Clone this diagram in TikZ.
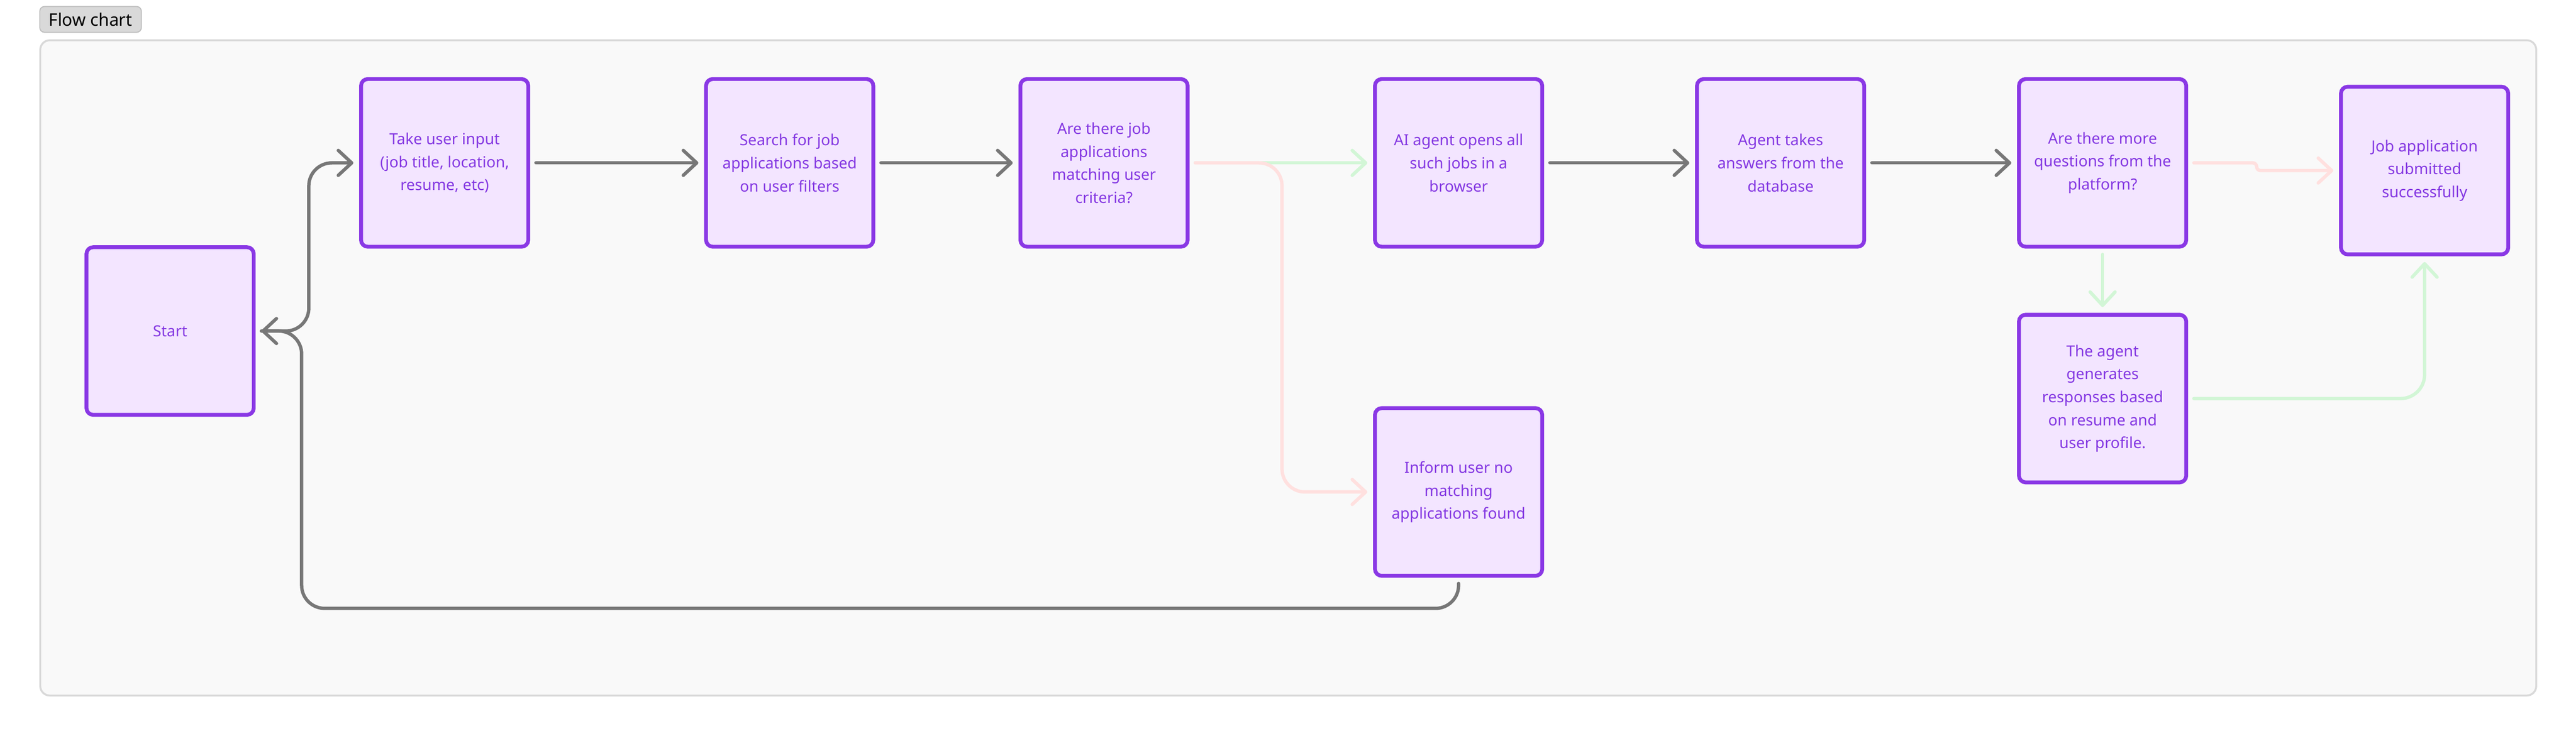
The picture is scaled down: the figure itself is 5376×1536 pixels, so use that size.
\documentclass[tikz,border=0pt]{standalone}
\usepackage{fontspec}
\setmainfont{Noto Sans}
\usetikzlibrary{arrows.meta,calc}
\definecolor{boxborder}{HTML}{8A38E5}
\definecolor{boxfill}{HTML}{F3E5FF}
\definecolor{boxtext}{HTML}{8438E2}
\definecolor{linegray}{HTML}{777777}
\definecolor{linepink}{HTML}{FFE0DF}
\definecolor{linegreen}{HTML}{D2F6D6}
\definecolor{panelfill}{HTML}{F9F9F9}
\definecolor{panelborder}{HTML}{D9D9D9}
\definecolor{tagfill}{HTML}{D9D9D9}
\definecolor{tagborder}{HTML}{BDBDBD}
\begin{document}
\begin{tikzpicture}[x=0.25pt,y=-0.25pt,
  flowbox/.style={draw=boxborder, fill=boxfill, line width=2pt, rounded corners=3.5pt,
    minimum width=87.25pt, minimum height=87.5pt, inner sep=0pt, align=center,
    text=boxtext, font=\fontsize{8pt}{12pt}\selectfont},
  conn/.style={line width=1.75pt, line cap=round, line join=round,
    shorten <=3pt, shorten >=3pt,
    -{Straight Barb[length=7pt,width=13pt,line cap=round,line join=round]}},
  grayconn/.style={conn, draw=linegray},
  pinkconn/.style={conn, draw=linepink},
  greenconn/.style={conn, draw=linegreen}
]
\useasboundingbox (0,0) rectangle (5376,1536);
\fill[white] (0,0) rectangle (5376,1536);

% panel and tag
\draw[draw=panelborder, fill=panelfill, line width=1pt, rounded corners=5pt] (84,84) rectangle (5293,1452);
\node[draw=tagborder, fill=tagfill, line width=0.5pt, rounded corners=2.5pt,
  minimum width=53pt, minimum height=13.5pt, inner sep=0pt,
  font=\fontsize{9pt}{11pt}\selectfont] (tag) at (189,40.5) {Flow chart};

% boxes
\node[flowbox] (start) at (355,691) {Start};
\node[flowbox] (take) at (928,340) {Take user input\\(job title, location,\\resume, etc)};
\node[flowbox] (search) at (1648,340) {Search for job\\applications based\\on user filters};
\node[flowbox] (arejobs) at (2304,340) {Are there job\\applications\\matching user\\criteria?};
\node[flowbox] (aiopen) at (3044,340) {AI agent opens all\\such jobs in a\\browser};
\node[flowbox] (answers) at (3716,340) {Agent takes\\answers from the\\database};
\node[flowbox] (aremore) at (4388,340) {Are there more\\questions from the\\platform?};
\node[flowbox] (submitted) at (5060,356) {Job application\\submitted\\successfully};
\node[flowbox] (generate) at (4388,832) {The agent\\generates\\responses based\\on resume and\\user profile.};
\node[flowbox] (inform) at (3044,1027) {Inform user no\\matching\\applications found};

% connectors
\draw[grayconn, rounded corners=12pt] (start.east) -- ++(111,0) |- (take.west);
\draw[grayconn, rounded corners=12pt] (inform.south) -- ++(0,64) -| ($(start.east)+(96,0)$) -- (start.east);
\draw[grayconn] (take) -- (search);
\draw[grayconn] (search) -- (arejobs);
\draw[greenconn] (arejobs) -- (aiopen);
\draw[pinkconn, rounded corners=12pt] (arejobs.east) -- ++(193,0) |- (inform.west);
\draw[grayconn] (aiopen) -- (answers);
\draw[grayconn] (answers) -- (aremore);
\draw[pinkconn, rounded corners=2pt] (aremore.east) -- ++(143,0) |- (submitted.west);
\draw[greenconn] (aremore) -- (generate);
\draw[greenconn, rounded corners=12.5pt] (generate.east) -| (submitted.south);
\end{tikzpicture}
\end{document}
